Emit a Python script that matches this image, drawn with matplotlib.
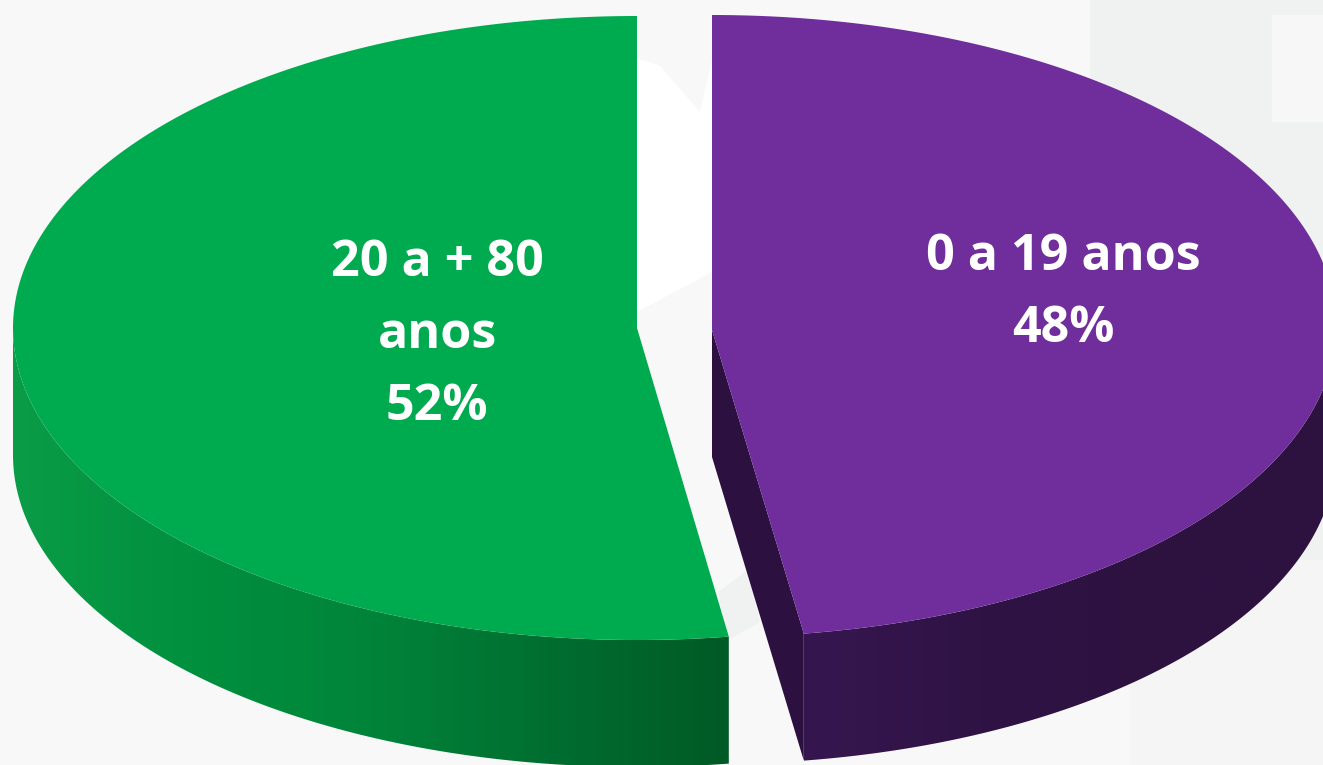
import numpy as np
import matplotlib
matplotlib.use('Agg')
import matplotlib.pyplot as plt
from matplotlib.colors import LinearSegmentedColormap
from matplotlib.patches import Polygon, Rectangle

shares = [47.65, 52.35]  # drawn angle, slightly off the printed 48/52
line_labels = [['0 a 19 anos', '48%'], ['20 a + 80', 'anos', '52%']]
top_colors = ['#6f2e9c', '#00ab4f']
green_side = ['#0b9c47', '#00903e', '#00843a', '#006e30', '#005a25']
purple_side = ['#36164f', '#2f1345', '#2d1240', '#2d1240']

W, H = 1323, 765
depth = 127
rx = 624
# apex, ellipse centre y and vertical radius of each slice
purple_c, purple_cy, purple_ry = (712, 330), 326, 311
green_c, green_cy, green_ry = (637, 328), 328, 312


def arc(x, cy, ry, t0, t1, n=200):
    # clockwise angle from the top, picture coords (y down)
    t = np.radians(np.linspace(t0, t1, n))
    return np.column_stack([x + rx * np.sin(t), cy - ry * np.cos(t)])


def wall(ax, pts, colors):
    low = pts + [0, depth]
    poly = Polygon(np.vstack([pts, low[::-1]]), closed=True, fc='none', ec='none', transform=ax.transData)
    ax.add_patch(poly)
    cmap = LinearSegmentedColormap.from_list('side', colors)
    x0, x1 = pts[:, 0].min(), pts[:, 0].max()
    y0, y1 = pts[:, 1].min(), low[:, 1].max()
    im = ax.imshow(np.linspace(0, 1, 256)[None, :], cmap=cmap, extent=(x0, x1, y1, y0), aspect='auto', zorder=2)
    im.set_clip_path(poly)


fig = plt.figure(figsize=(W / 100, H / 100), dpi=100, facecolor='#f8f8f8')
ax = fig.add_axes([0, 0, 1, 1])
ax.set_facecolor('#f8f8f8')

# faint template behind the pie
ax.add_patch(Rectangle((1090, 0), 233, 560, fc='#f0f2f1', ec='none', zorder=0))
ax.add_patch(Rectangle((1130, 560), 193, 205, fc='#f5f5f5', ec='none', zorder=0))
ax.add_patch(Rectangle((1272, 15), 51, 107, fc='#f7f7f7', ec='none', zorder=0))
ax.add_patch(Polygon([(637, 58), (660, 66), (700, 112), (712, 60), (712, 272), (637, 312)], fc='#ffffff', ec='none', zorder=0))
ax.add_patch(Polygon([(718, 592), (748, 570), (760, 622), (728, 640)], fc='#f0f2f2', ec='none', zorder=0))

angle = shares[0] * 3.6

# green slice
edge = arc(green_c[0], green_cy, green_ry, angle, 270)
wall(ax, edge, green_side)
top = arc(green_c[0], green_cy, green_ry, angle, 360)
ax.add_patch(Polygon(np.vstack([top, [green_c]]), fc=top_colors[1], ec='none', zorder=3))

# purple slice, the cut face first
edge = arc(purple_c[0], purple_cy, purple_ry, 90, angle)
wall(ax, edge, purple_side)
end = edge[-1]
cut = np.array([purple_c, end, end + [0, depth], np.array(purple_c) + [0, depth]])
ax.add_patch(Polygon(cut, fc='#2c1140', ec='none', zorder=2))
top = arc(purple_c[0], purple_cy, purple_ry, 0, angle)
ax.add_patch(Polygon(np.vstack([top, [purple_c]]), fc=top_colors[0], ec='none', zorder=3))

for lines, x, y in zip(line_labels, [1063, 437], [270, 276]):
    for i, s in enumerate(lines):
        ax.text(x, y + i * 72, s, color='white', fontsize=36.2, fontweight='bold', family='Open Sans',
                ha='center', va='baseline', zorder=4)

ax.set_xlim(0, W)
ax.set_ylim(H, 0)
ax.axis('off')
fig.savefig('out.png', dpi=100, facecolor=fig.get_facecolor())
